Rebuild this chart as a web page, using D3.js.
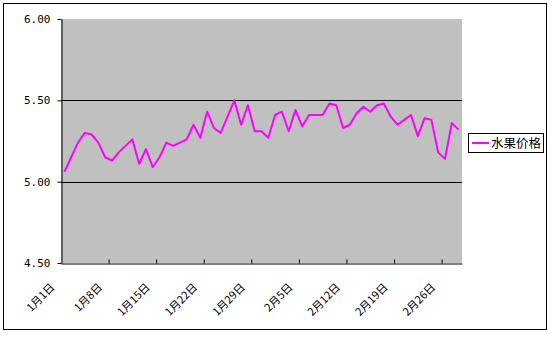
<!DOCTYPE html>
<html>
<head>
<meta charset="utf-8">
<script src="https://cdn.jsdelivr.net/npm/d3@7"></script>
<style>
  body { margin: 0; background: #fff; }
  .ylab text { font-family: "DejaVu Sans Mono", monospace; font-size: 11px; }
  .xlab { font-family: "Noto Sans CJK SC", sans-serif; font-size: 11px; }
</style>
</head>
<body>
<div id="chart"></div>
<script>
// chart data
var dates = [
  "1月1日", "1月2日", "1月3日", "1月4日", "1月5日", "1月6日", "1月7日",
  "1月8日", "1月9日", "1月10日", "1月11日", "1月12日", "1月13日", "1月14日",
  "1月15日", "1月16日", "1月17日", "1月18日", "1月19日", "1月20日", "1月21日",
  "1月22日", "1月23日", "1月24日", "1月25日", "1月26日", "1月27日", "1月28日",
  "1月29日", "1月30日", "1月31日", "2月1日", "2月2日", "2月3日", "2月4日",
  "2月5日", "2月6日", "2月7日", "2月8日", "2月9日", "2月10日", "2月11日",
  "2月12日", "2月13日", "2月14日", "2月15日", "2月16日", "2月17日", "2月18日",
  "2月19日", "2月20日", "2月21日", "2月22日", "2月23日", "2月24日", "2月25日",
  "2月26日", "2月27日", "2月28日"
];
var prices = [
  5.06, 5.15, 5.24, 5.30, 5.29, 5.24, 5.15, 5.13, 5.18, 5.22,
  5.26, 5.11, 5.20, 5.09, 5.15, 5.24, 5.22, 5.24, 5.26, 5.35,
  5.27, 5.43, 5.33, 5.30, 5.40, 5.50, 5.35, 5.47, 5.31, 5.31,
  5.27, 5.41, 5.43, 5.31, 5.44, 5.34, 5.41, 5.41, 5.41, 5.48,
  5.47, 5.33, 5.35, 5.42, 5.46, 5.43, 5.47, 5.48, 5.40, 5.35,
  5.38, 5.41, 5.28, 5.39, 5.38, 5.18, 5.14, 5.36, 5.32
];
var yTicks = [4.5, 5.0, 5.5, 6.0];
var gridValues = [5.0, 5.5];
var labelEvery = 7;
var seriesName = "水果价格";

// Set up chart
//= ================================
var svgWidth = 552;
var svgHeight = 337;
var plot = { left: 61, top: 19, right: 462, bottom: 263 };

var svg = d3.select("#chart")
  .append("svg")
  .attr("width", svgWidth)
  .attr("height", svgHeight);

// outer frame
svg.append("rect")
  .attr("x", 3.5).attr("y", 3.5)
  .attr("width", 543).attr("height", 326)
  .attr("fill", "#fff")
  .attr("stroke", "#000");

// scales
var xIndex = d3.scaleLinear()
  .domain([0, dates.length])
  .range([plot.left, plot.right]);

var yScale = d3.scaleLinear()
  .domain([4.5, 6.0])
  .range([plot.bottom, plot.top]);

// plot area
svg.append("rect")
  .attr("x", plot.left).attr("y", plot.top)
  .attr("width", plot.right - plot.left)
  .attr("height", plot.bottom - plot.top)
  .attr("fill", "#c0c0c0");

// gridlines
svg.selectAll(".grid")
  .data(gridValues)
  .enter()
  .append("line")
  .attr("x1", plot.left).attr("x2", plot.right)
  .attr("y1", d => Math.round(yScale(d)) + 0.5)
  .attr("y2", d => Math.round(yScale(d)) + 0.5)
  .attr("stroke", "#000");

// y axis
var leftAxis = d3.axisLeft(yScale)
  .tickValues(yTicks)
  .tickFormat(d3.format(".2f"))
  .tickSizeInner(4)
  .tickSizeOuter(0)
  .tickPadding(7);

svg.append("g")
  .attr("class", "ylab")
  .attr("transform", `translate(${plot.left + 0.5}, 0)`)
  .call(leftAxis)
  .call(g => g.selectAll("text").attr("fill", "#000"));

// x axis (ticks on category boundaries, pointing inward)
var tickIdx = d3.range(labelEvery, dates.length, labelEvery);
var bottomAxis = d3.axisBottom(xIndex)
  .tickValues(tickIdx)
  .tickFormat("")
  .tickSizeInner(-4)
  .tickSizeOuter(0);

svg.append("g")
  .attr("transform", `translate(0, ${plot.bottom + 0.5})`)
  .call(bottomAxis);

// rotated category labels
var labelIdx = d3.range(0, dates.length, labelEvery);
svg.selectAll(".xlab")
  .data(labelIdx)
  .enter()
  .append("text")
  .attr("class", "xlab")
  .attr("text-anchor", "end")
  .attr("transform", i => `translate(${xIndex(i + 0.5) - 9}, 288) rotate(-45)`)
  .text(i => dates[i]);

// price line
var line = d3.line()
  .x((d, i) => xIndex(i + 0.5))
  .y(d => yScale(d));

svg.append("path")
  .datum(prices)
  .attr("d", line)
  .attr("fill", "none")
  .attr("stroke", "#ff00ff")
  .attr("stroke-width", 2)
  .attr("stroke-linejoin", "round");

// legend
var legend = svg.append("g").attr("transform", "translate(468, 133)");
legend.append("rect")
  .attr("x", 0.5).attr("y", 0.5)
  .attr("width", 75).attr("height", 19)
  .attr("fill", "#fff")
  .attr("stroke", "#000");
legend.append("line")
  .attr("x1", 4).attr("x2", 21)
  .attr("y1", 10).attr("y2", 10)
  .attr("stroke", "#ff00ff")
  .attr("stroke-width", 2);
legend.append("text")
  .attr("x", 23).attr("y", 15)
  .style("font-family", "'Noto Sans CJK SC', sans-serif")
  .style("font-size", "12.5px")
  .text(seriesName);
</script>
</body>
</html>
